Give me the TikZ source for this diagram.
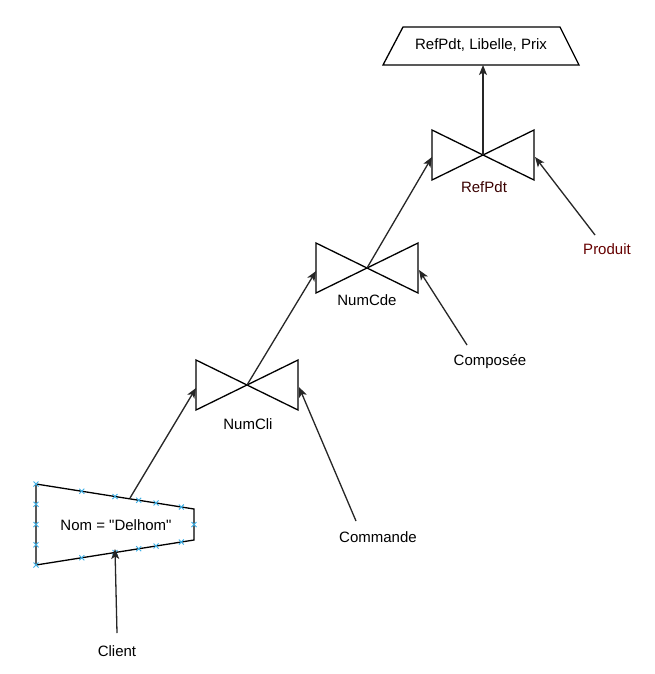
\documentclass[tikz,border=0pt]{standalone}
\usepackage{fontspec}
\setmainfont{Liberation Sans}[Ligatures=TeXOff]
\usetikzlibrary{arrows.meta,calc}
\definecolor{markblue}{HTML}{3CB0E8}
\definecolor{darkred}{HTML}{660000}
\definecolor{darkred2}{HTML}{3A0000}
\tikzset{
  lbl/.style={font=\fontsize{15}{18}\selectfont, inner sep=0pt, text=black},
  shp/.style={draw=black, line width=1.3pt, line join=miter},
  conn/.style={draw=black!85, line width=1.3pt, -{Stealth[length=10pt,width=8pt,inset=2.5pt]}},
  xmark/.style={markblue, line width=0.9pt}
}
\newcommand{\joinshape}[1]{%
  \draw[shp] ($(#1)+(-51,-25)$) -- (#1) -- ($(#1)+(-51,25)$) -- cycle;
  \draw[shp] ($(#1)+(51,-25)$) -- (#1) -- ($(#1)+(51,25)$) -- cycle;
}
\newcommand{\xmk}[1]{%
  \draw[xmark] ($(#1)+(-2.5,-2.5)$) -- ($(#1)+(2.5,2.5)$);
  \draw[xmark] ($(#1)+(-2.5,2.5)$) -- ($(#1)+(2.5,-2.5)$);
}
\begin{document}
\begin{tikzpicture}[x=1pt,y=-1pt]
\useasboundingbox (0,0) rectangle (654,674);
\fill[white] (0,0) rectangle (654,674);

% top projection trapezoid
\draw[shp] (403,27) -- (560,27) -- (579,65) -- (383,65) -- cycle;
\node[lbl] (proj) at (481,45) {RefPdt, Libelle, Prix};
\coordinate (projbot) at (483,65);

% bowties
\coordinate (j3) at (483,155);
\coordinate (j2) at (367,268);
\coordinate (j1) at (247,385);
\joinshape{j3}
\joinshape{j2}
\joinshape{j1}
\node[lbl, text=darkred2] (l3) at (484,187) {RefPdt};
\node[lbl] (l2) at (367,300) {NumCde};
\node[lbl] (l1) at (248,424) {NumCli};

\coordinate (j3l) at (432,157);
\coordinate (j3r) at (535,157);
\coordinate (j2l) at (316,271);
\coordinate (j2r) at (419,270);
\coordinate (j1l) at (196,388);
\coordinate (j1r) at (299,387);

% selection trapezoid
\coordinate (s1) at (36,484);
\coordinate (s2) at (194,509);
\coordinate (s3) at (194,540);
\coordinate (s4) at (36,565);
\draw[shp] (s1) -- (s2) -- (s3) -- (s4) -- cycle;
\node[lbl] (sel) at (116,525) {Nom = "Delhom"};
\coordinate (seltop) at (130,498);
\coordinate (selbot) at (115,549);
% blue marks
\foreach \t in {0,0.25,0.5,0.75,1} {\xmk{$(s1)!\t!(s4)$}}
\foreach \t in {0.29,0.5,0.65,0.76,0.92} {\xmk{$(s1)!\t!(s2)$} \xmk{$(s4)!\t!(s3)$}}
\xmk{$(s2)!0.5!(s3)$}

% base relations
\node[lbl, text=darkred] (produit) at (607,249) {Produit};
\node[lbl] (compo) at (490,362) {Composée};
\node[lbl] (cmd) at (378,537) {Commande};
\node[lbl] (client) at (117,651) {Client};

\coordinate (produitS) at (595,235);
\coordinate (compoS) at (467,345);
\coordinate (cmdS) at (356,521);
\coordinate (clientS) at (117,633);

% connectors
\draw[conn] (j3) -- (projbot);
\draw[conn] (j2) -- (j3l);
\draw[conn] (produitS) -- (j3r);
\draw[conn] (j1) -- (j2l);
\draw[conn] (compoS) -- (j2r);
\draw[conn] (seltop) -- (j1l);
\draw[conn] (cmdS) -- (j1r);
\draw[conn] (clientS) -- (selbot);
\end{tikzpicture}
\end{document}
